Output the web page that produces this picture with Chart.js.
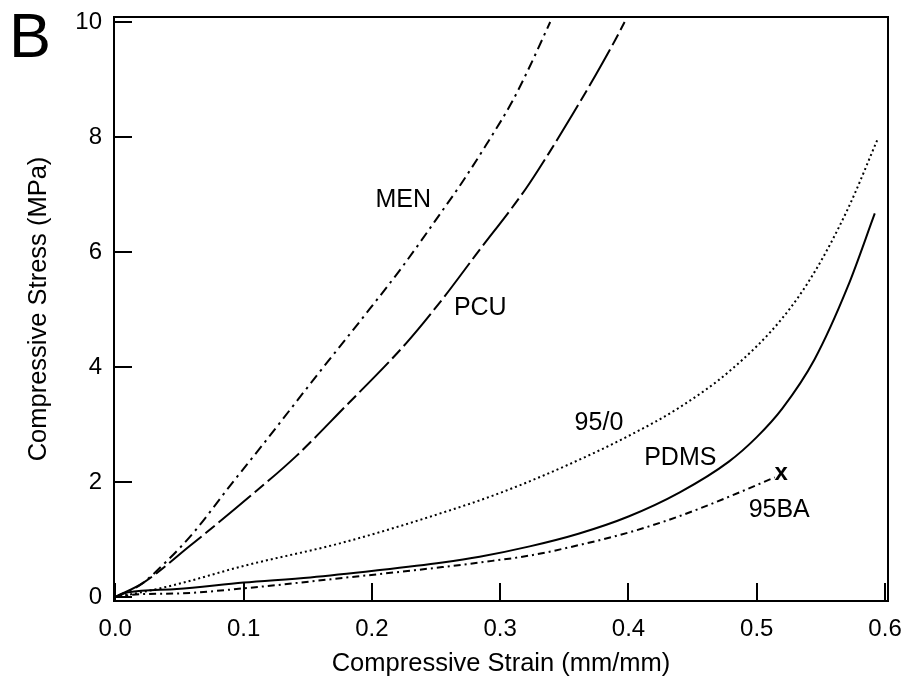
<!DOCTYPE html>
<html>
<head>
<meta charset="utf-8">
<script src="https://cdn.jsdelivr.net/npm/chart.js@4.4.1/dist/chart.umd.min.js"></script>
<style>
html,body{margin:0;padding:0;background:#fff;}
#wrap{width:909px;height:679px;position:relative;}
</style>
</head>
<body>
<div id="wrap"><canvas id="c" width="909" height="679"></canvas></div>
<script>
// ---- data ----
const xTickValues = [0, 0.1, 0.2, 0.3, 0.4, 0.5, 0.6];
const yTickValues = [0, 2, 4, 6, 8, 10];

const menStrain = [0, 0.02, 0.04, 0.061, 0.09, 0.115, 0.157, 0.198, 0.224, 0.255, 0.27, 0.289, 0.3095, 0.3225, 0.339];
const menStress = [0, 0.22, 0.62, 1.12, 1.95, 2.65, 3.85, 5.00, 5.75, 6.72, 7.20, 7.86, 8.62, 9.20, 10.0];

const pcuStrain = [0, 0.022, 0.058, 0.105, 0.141, 0.177, 0.227, 0.255, 0.281, 0.32, 0.338, 0.356, 0.374, 0.39, 0.397];
const pcuStress = [0, 0.25, 0.885, 1.75, 2.45, 3.26, 4.42, 5.18, 5.95, 7.10, 7.72, 8.38, 9.06, 9.70, 10.0];

const p950Strain = [0, 0.02, 0.048, 0.10, 0.177, 0.255, 0.30, 0.35, 0.40, 0.44, 0.48, 0.52, 0.545, 0.571, 0.594];
const p950Stress = [0, 0.08, 0.22, 0.54, 0.944, 1.465, 1.81, 2.27, 2.80, 3.30, 3.95, 4.85, 5.65, 6.75, 7.95];

const pdmsStrain = [0, 0.01, 0.048, 0.10, 0.152, 0.203, 0.255, 0.284, 0.323, 0.361, 0.40, 0.44, 0.478, 0.50, 0.52, 0.545, 0.571, 0.592];
const pdmsStress = [0, 0.08, 0.14, 0.25, 0.34, 0.46, 0.60, 0.70, 0.88, 1.10, 1.40, 1.82, 2.35, 2.78, 3.28, 4.13, 5.40, 6.67];

const ba95Strain = [0, 0.02, 0.048, 0.10, 0.177, 0.255, 0.284, 0.323, 0.361, 0.40, 0.439, 0.478, 0.514];
const ba95Stress = [0, 0.05, 0.06, 0.15, 0.33, 0.52, 0.60, 0.72, 0.90, 1.12, 1.40, 1.74, 2.08];

const seriesNames = ['MEN', 'PCU', '95/0', 'PDMS', '95BA'];
// label anchors (data coordinates)
const labelStrain = [0.2245, 0.2845, 0.377, 0.4404, 0.5175];
const labelStress = [6.9, 5.03, 3.03, 2.41, 1.505];
const failStrain = [0.519];
const failStress = [2.10];

function pts(xs, ys){ return xs.map((x,i)=>({x:x, y:ys[i]})); }

const FONT = "'Liberation Sans', Arial, Helvetica, sans-serif";

function ds(label, data, dash){
  return {label, data, showLine:true, borderColor:'#000', backgroundColor:'#000',
    borderWidth:2, borderDash:dash, pointRadius:0, cubicInterpolationMode:'monotone', fill:false};
}

const decor = {
  id:'decor',
  afterDraw(chart){
    const ctx = chart.ctx, a = chart.chartArea;
    const xs = chart.scales.x, ys = chart.scales.y;
    ctx.save();
    ctx.strokeStyle = '#000';
    ctx.lineWidth = 2;
    ctx.setLineDash([]);
    ctx.strokeRect(a.left, a.top, a.right - a.left, a.bottom - a.top);
    // inward ticks
    ctx.beginPath();
    xTickValues.forEach(v=>{
      const px = Math.round(xs.getPixelForValue(v));
      ctx.moveTo(px, a.bottom); ctx.lineTo(px, a.bottom - 18);
    });
    yTickValues.forEach(v=>{
      const py = Math.round(ys.getPixelForValue(v));
      ctx.moveTo(a.left, py); ctx.lineTo(a.left + 18, py);
    });
    ctx.stroke();
    // series labels
    ctx.fillStyle = '#000';
    ctx.textAlign = 'center';
    ctx.textBaseline = 'middle';
    ctx.font = '25px ' + FONT;
    seriesNames.forEach((n,i)=>{
      ctx.fillText(n, xs.getPixelForValue(labelStrain[i]), ys.getPixelForValue(labelStress[i]));
    });
    ctx.font = 'bold 24px ' + FONT;
    failStrain.forEach((s,i)=>{
      ctx.fillText('x', xs.getPixelForValue(s), ys.getPixelForValue(failStress[i]) - 3);
    });
    // panel letter
    ctx.textAlign = 'left';
    ctx.textBaseline = 'alphabetic';
    ctx.font = '63px ' + FONT;
    ctx.fillText('B', 9, 57);
    ctx.restore();
  }
};

new Chart(document.getElementById('c'), {
  type:'scatter',
  data:{ datasets:[
    ds('MEN', pts(menStrain, menStress), [10,5,2.5,5]),
    ds('PCU', pts(pcuStrain, pcuStress), [42,5,12,5]),
    ds('95/0', pts(p950Strain, p950Stress), [2,3]),
    ds('PDMS', pts(pdmsStrain, pdmsStress), []),
    ds('95BA', pts(ba95Strain, ba95Stress), [7,4,2,4])
  ]},
  options:{
    responsive:false, animation:false, devicePixelRatio:1,
    layout:{padding:{left:0, top:17, right:21, bottom:0}},
    plugins:{legend:{display:false}, tooltip:{enabled:false}},
    scales:{
      x:{ type:'linear', min:-0.001, max:0.6023,
        grid:{display:false, drawTicks:false}, border:{display:false},
        afterBuildTicks(s){ s.ticks = xTickValues.map(v=>({value:v})); },
        afterFit(s){ s.height = 78; s.paddingLeft = 0; s.paddingRight = 0; },
        ticks:{ padding:14, color:'#000', font:{family:FONT, size:24},
          callback:(v)=>Number(v).toFixed(1), maxRotation:0, autoSkip:false },
        title:{ display:true, text:'Compressive Strain (mm/mm)', color:'#000',
          font:{family:FONT, size:25.5}, padding:{top:0, bottom:0} }
      },
      y:{ type:'linear', min:-0.07, max:10.087,
        grid:{display:false, drawTicks:false}, border:{display:false},
        afterBuildTicks(s){ s.ticks = yTickValues.map(v=>({value:v})); },
        afterFit(s){ s.width = 114; s.paddingTop = 0; s.paddingBottom = 0; },
        ticks:{ padding:12, color:'#000', font:{family:FONT, size:24}, autoSkip:false },
        title:{ display:true, text:'Compressive Stress (MPa)', color:'#000',
          font:{family:FONT, size:25.5}, padding:{top:24, bottom:0} }
      }
    }
  },
  plugins:[decor]
});
</script>
</body>
</html>
